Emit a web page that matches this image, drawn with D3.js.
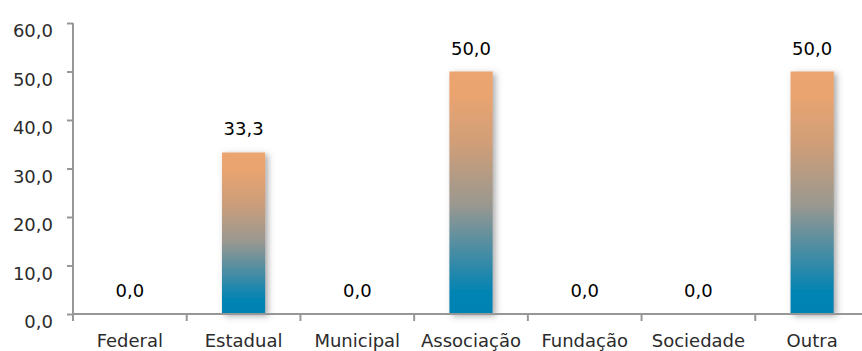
<!DOCTYPE html>
<html><head><meta charset="utf-8">
<script src="https://cdn.jsdelivr.net/npm/d3@7"></script>
<style>html,body{margin:0;padding:0;background:#fff;overflow:hidden}</style>
</head><body><svg id="c" width="862" height="351"></svg>
<script>
const categories = ["Federal","Estadual","Municipal","Associação","Fundação","Sociedade","Outra"];
const values = [0, 33.3, 0, 50, 0, 0, 50];
const yTicks = [0, 10, 20, 30, 40, 50, 60];

const svg = d3.select("#c");
const font = "DejaVu Sans";
const x = d3.scaleBand().domain(categories).range([73, 869]).paddingInner(0.62).paddingOuter(0.31);
const y = d3.scaleLinear().domain([0, 60]).range([314, 23]);
const fmt = v => d3.format(".1f")(v).replace(".", ",");

const defs = svg.append("defs");
const g = defs.append("linearGradient").attr("id","grad").attr("x1",0).attr("y1",1).attr("x2",0).attr("y2",0);
[[0,"#0083b3"],[0.1,"#0684b2"],[0.3,"#5a8fa0"],[0.45,"#9a9890"],[0.7,"#cf9e78"],[0.9,"#eaa470"],[1,"#eca56f"]].forEach(([o,c]) =>
  g.append("stop").attr("offset",o).attr("stop-color",c));
const f = defs.append("filter").attr("id","sh").attr("x","-20%").attr("y","-10%").attr("width","160%").attr("height","130%");
f.append("feDropShadow").attr("dx",3).attr("dy",2).attr("stdDeviation",3).attr("flood-color","#555").attr("flood-opacity",0.5);

// bars
svg.append("g").selectAll("rect").data(values).join("rect")
  .attr("x",(d,i)=>x(categories[i])).attr("width",x.bandwidth())
  .attr("y",d=>y(d)).attr("height",d=>y(0)-y(d))
  .attr("fill","url(#grad)").attr("filter","url(#sh)")
  .style("display",d=>d>0?null:"none");

// y axis
const yAxis = d3.axisLeft(y).tickValues(yTicks).tickSize(6).tickPadding(14).tickFormat(fmt);
const ya = svg.append("g").attr("transform","translate(73,0)").call(yAxis);
ya.select(".domain").attr("stroke","#979797").attr("stroke-width",2).attr("d","M0,23V314");
ya.selectAll(".tick line").attr("stroke","#979797").attr("stroke-width",2);
ya.selectAll(".tick text").attr("font-family",font).attr("font-size",18).attr("fill","#2b2b2b").attr("dy","1.1em").attr("y",-6).attr("x",-20);

// x axis
const xa = svg.append("g").attr("transform","translate(0,314)");
xa.append("line").attr("x1",73).attr("x2",869).attr("stroke","#979797").attr("stroke-width",2);
const step = x.step();
xa.selectAll("line.t").data(d3.range(categories.length+1)).join("line").attr("class","t")
  .attr("x1",i=>73+i*step).attr("x2",i=>73+i*step).attr("y1",0).attr("y2",7)
  .attr("stroke","#979797").attr("stroke-width",2);
xa.selectAll("text").data(categories).join("text")
  .attr("x",d=>x(d)+x.bandwidth()/2).attr("y",32.5).attr("text-anchor","middle")
  .attr("font-family",font).attr("font-size",18).attr("fill","#2b2b2b").text(d=>d);

// data labels
svg.append("g").selectAll("text").data(values).join("text")
  .attr("x",(d,i)=>x(categories[i])+x.bandwidth()/2).attr("y",d=>y(d)-17)
  .attr("text-anchor","middle").attr("font-family",font).attr("font-size",18).attr("fill","#000")
  .text(d=>fmt(d));
</script></body></html>
